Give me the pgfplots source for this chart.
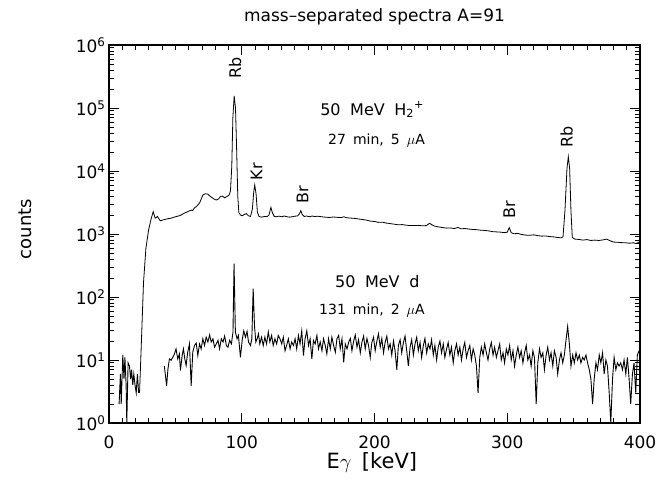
\documentclass[border=0pt]{standalone}
\usepackage{fontspec}
\setmainfont{DejaVu Sans}
\usepackage{pgfplots}
\pgfplotsset{compat=1.18}
\newcommand{\fs}[1]{\fontsize{#1bp}{#1bp}\selectfont}
\begin{document}
\begin{tikzpicture}
\useasboundingbox (-109bp,-60bp) rectangle (562bp,423bp);
\begin{axis}[
 at={(0,0)}, anchor=south west,
 scale only axis, width=531bp, height=378bp,
 xmin=0, xmax=400, ymin=1, ymax=1e6, ymode=log, log basis y=10,
 xtick={0,100,200,300,400}, xticklabels={0,100,200,300,400},
 minor x tick num=9,
 ytick={1,10,100,1000,10000,100000,1000000},
 yticklabels={10\textsuperscript{0},10\textsuperscript{1},10\textsuperscript{2},10\textsuperscript{3},10\textsuperscript{4},10\textsuperscript{5},10\textsuperscript{6}},
 minor ytick={2,3,4,5,6,7,8,9,20,30,40,50,60,70,80,90,200,300,400,500,600,700,800,900,2000,3000,4000,5000,6000,7000,8000,9000,20000,30000,40000,50000,60000,70000,80000,90000,200000,300000,400000,500000,600000,700000,800000,900000},
 tick align=inside, xtick pos=both, ytick pos=both,
 xticklabel pos=lower, yticklabel pos=left,
 major tick length=10bp, minor tick length=5bp,
 every tick/.style={black, line width=0.8bp},
 axis line style={line width=1.1bp},
 ticklabel style={font=\fs{17}},
 xticklabel style={yshift=-9bp},
 clip mode=individual,
]
% H2+ spectrum
\addplot[black, line width=0.8bp] coordinates {
(23,3) (24.5,22) (26,170) (27.8,590) (29.8,1150) (31.6,1700) (33.3,2260) (34.8,1780) (36.5,1900) (38.6,1620)
(41,1680) (43,1720) (45,1760) (46.7,1780) (49,1850) (51,1900) (53,1950) (54.3,2000) (56,2100) (58,2200)
(60,2300) (61.9,2400) (63,2350) (64.4,2600) (66,2750) (68.2,3100) (69.5,3600) (70.7,4150) (72.5,4350) (74.5,4300)
(76,4000) (77.5,3800) (79,3600) (80.8,3460) (82.5,3600) (84,3950) (85.5,4000) (87,3750) (88.5,3900) (90.5,4150)
(91.5,4800) (92.5,12000) (93.3,70000) (94.3,155000) (95.3,100000) (96.2,20000) (97,4000) (97.8,2200) (99,2000) (100.5,1950)
(102,2050) (103.5,2100) (105,1950) (106.6,1900) (108,2500) (109,4600) (109.8,6000) (110.8,4300) (111.8,2200) (113,1900)
(115,1850) (117,1900) (119,1880) (120.5,2000) (122,2650) (123,2200) (124.5,1900) (126,1880) (128,1920) (130,1880)
(132,1930) (134,1880) (136,1850) (138,1880) (140,1920) (142,1930) (143.5,2100) (144.5,2350) (145.5,2050) (147,1900)
(149,1930) (151,1880) (153,1930) (155,1890) (157,1920) (160,1880) (163,1850) (166,1830) (169,1860) (172,1840)
(175,1820) (177,1880) (179,1810) (182,1790) (185,1770) (188,1730) (191,1700) (194,1660) (197,1600) (200,1580)
(203,1530) (206,1540) (209,1490) (212,1460) (215,1430) (218,1400) (221,1410) (224,1380) (227,1360) (230,1360)
(233,1370) (236,1350) (239,1360) (241.5,1480) (243,1410) (245,1340) (248,1300) (251,1270) (254,1240) (257,1250)
(260,1220) (263,1270) (265,1210) (268,1220) (271,1200) (274,1180) (277,1170) (280,1150) (283,1140) (286,1120)
(289,1090) (292,1080) (295,1070) (298,1050) (300,1070) (301.5,1260) (303,1050) (305,1010) (308,1020) (311,980)
(314,960) (317,955) (320,970) (323,940) (326,925) (329,930) (332,910) (335,900) (338,880) (340.5,870)
(342,900) (343.5,2400) (345,11000) (346,16900) (347,11000) (348,2300) (349,880) (351,830) (354,820) (357,800)
(360,815) (363,790) (366,800) (369,790) (372,805) (375,830) (377,790) (380,745) (383,740) (386,730)
(389,725) (392,715) (395,725) (397,705) (399,740) (400,755)
};
% d spectrum, low-energy part
\addplot[black, line width=0.9bp] coordinates {
(7.6,2) (8.6,6) (9.2,2) (10.4,12) (11.3,5) (12.0,11) (12.9,4) (13.4,1) (14.4,9) (15.4,8)
(16.3,5) (17.0,7) (17.9,4) (18.7,6) (19.6,4) (20.5,3) (21.4,6) (22.3,3)
};
% d spectrum, main part
\addplot[black, line width=0.9bp] coordinates {
(41.7,8) (43.4,3.9) (44.4,7.2) (45.5,10.4) (46.8,9.9) (48.0,11) (49.3,12.5) (50.5,15) (51.8,10.4) (53.0,12.5)
(53.8,6.8) (55.1,11.8) (56.1,15) (57.1,10.4) (58.1,8.2) (59.3,13.3) (60.6,18) (61.9,3.9) (63.1,13.3) (64.4,17)
(65.7,18.5) (66.9,11.8) (68.2,18) (69.4,15) (70.7,21.7) (72.0,17) (73.2,23) (74.5,19.3) (75.8,25) (77.0,19.3)
(78.3,21.7) (79.5,16) (80.8,18) (82.1,20.5) (83.3,15) (84.6,21.7) (85.9,19.3) (87.1,24) (88.4,17) (89.6,16)
(90.9,20.5) (92.2,18) (93.4,27.8) (94.2,340) (95.2,27.8) (96.5,21.7) (97.5,24.6) (99.0,11) (100.3,20.5) (101.5,29)
(102.8,23) (104.0,28.5) (105.1,19.3) (106.6,17) (107.6,21.7) (108.6,136) (109.6,35) (110.6,19.3) (111.6,21.7) (112.6,26)
(113.6,18) (114.9,23) (116.2,17) (117.4,23) (118.7,18) (120.0,27.8) (121.2,19.3) (122.5,24.6) (123.7,17) (125.0,21.7)
(126.3,18) (127.5,24.6) (128.8,21.7) (130.1,18) (131.3,23) (132.6,14) (133.8,17) (135.1,21.7) (136.4,15) (137.6,19.3)
(138.9,17) (140.2,21.7) (141.4,15) (142.7,24.6) (143.9,18) (145.2,29) (146.5,11.8) (147.7,21.7) (149.0,29) (150.3,17)
(151.5,21.7) (152.8,10.4) (154.0,20.5) (155.3,18) (156.6,24.6) (157.8,15) (159.1,19.3) (160.4,14) (161.6,21.7) (162.9,17)
(164.1,12.5) (165.4,21.7) (166.7,15) (167.9,23) (169.2,17) (170.5,13.3) (171.7,21.7) (173.0,24.6) (174.2,15) (175.5,21.7)
(176.8,9.2) (178.0,18) (179.3,15) (180.6,19.3) (181.8,22) (183.0,14) (184.3,20) (185.5,25) (186.8,16) (188.0,21)
(189.3,13) (190.5,19) (191.8,24) (193.0,15) (194.3,22) (195.5,17) (196.8,11) (198.0,19) (199.3,23) (200.5,14)
(201.8,20) (203.0,26) (204.3,16) (205.5,22) (206.8,13) (208.0,19) (209.3,24) (210.5,15) (211.8,18) (213.0,12)
(214.3,20) (215.5,14) (216.8,7) (218.0,17) (219.3,21) (220.5,13) (221.8,19) (223.0,24) (224.3,14) (225.5,8)
(226.8,16) (228.0,21) (229.3,12) (230.5,18) (231.8,23) (233.0,14) (234.3,19) (235.5,11) (236.8,17) (238.0,22)
(239.3,13) (240.5,18) (241.8,15) (243.0,21) (244.3,12) (245.5,17) (246.8,10) (248.0,16) (249.3,20) (250.5,13)
(251.8,18) (253.0,11) (254.3,15) (255.5,19) (256.8,12) (258.0,16) (259.3,9) (260.5,14) (261.8,18) (263.0,12)
(264.3,16) (265.5,10) (266.8,15) (268.0,19) (269.3,11) (270.5,14) (271.8,17) (273.0,10) (274.3,15) (275.5,12)
(276.8,8) (278.0,3) (279.3,11) (280.5,16) (281.8,12) (283.0,18) (284.3,13) (285.5,10) (286.8,15) (288.0,19)
(289.3,12) (290.5,16) (291.8,11) (293.0,14) (294.3,18) (295.5,10) (296.8,13) (298.0,9) (299.3,15) (300.5,12)
(301.8,17) (303.0,10) (304.3,14) (305.5,8) (306.8,12) (308.0,16) (309.3,11) (310.5,14) (311.8,9) (313.0,13)
(314.3,17) (315.5,10) (316.8,12) (318.0,8) (319.3,14) (320.5,11) (321.8,2) (323.0,9) (324.3,15) (325.5,11)
(326.8,13) (328.0,7) (329.3,12) (330.5,16) (331.8,10) (333.0,13) (334.3,8) (335.5,14) (336.8,11) (338.0,6)
(339.3,10) (340.5,13) (341.8,9) (343.0,12) (344.3,21) (345.5,34) (346.8,18) (348.0,8) (349.3,12) (350.5,9)
(351.8,13) (353.0,10) (354.3,12) (355.5,9) (356.8,11) (358.0,10) (359.3,12) (360.5,9) (361.8,7) (363.0,5)
(364.3,2) (365.5,5) (366.8,9) (368.0,7) (369.3,12) (370.5,9) (371.8,13) (373.0,6) (374.3,10) (375.5,8)
(376.8,3) (378.0,1) (379.3,5) (380.5,11) (381.8,7) (383.0,9) (384.3,8) (385.5,9) (386.8,7) (388.0,10)
(389.3,6) (390.5,11) (391.8,5) (393.0,2) (394.3,6) (395.5,9) (396.8,3) (398.0,12) (399.3,14) (400.0,12)
};
% texts
\node[font=\fs{17}] at (axis cs:200,2.78e6) {mass\textendash separated spectra A=91};
\node[rotate=90, font=\fs{18}] at (axis cs:-63,1200) {counts};
\node[font=\fs{21}] at (axis cs:198,0.235) {E$\gamma$\hspace{0.5em}[keV]};
\node[rotate=90, font=\fs{16}] at (axis cs:95,4.3e5) {Rb};
\node[rotate=90, font=\fs{16}] at (axis cs:111.2,9700) {Kr};
\node[rotate=90, font=\fs{16}] at (axis cs:145.8,4150) {Br};
\node[rotate=90, font=\fs{16}] at (axis cs:301.5,2400) {Br};
\node[rotate=90, font=\fs{16}] at (axis cs:344.8,34300) {Rb};
\node[anchor=base west, inner sep=0pt, font=\fs{16}] at (axis cs:159,77400) {50\hspace{0.6em}MeV\hspace{0.6em}H\textsubscript{2}\textsuperscript{+}};
\node[anchor=base west, inner sep=0pt, font=\fs{14}] at (axis cs:165,25900) {27\hspace{0.5em}min,\hspace{0.5em}5\hspace{0.5em}$\mu$A};
\node[anchor=base west, inner sep=0pt, font=\fs{16}] at (axis cs:170.2,144) {50\hspace{0.6em}MeV\hspace{0.6em}d};
\node[anchor=base west, inner sep=0pt, font=\fs{14}] at (axis cs:158.2,51.8) {131\hspace{0.5em}min,\hspace{0.5em}2\hspace{0.5em}$\mu$A};
\end{axis}
\end{tikzpicture}
\end{document}
